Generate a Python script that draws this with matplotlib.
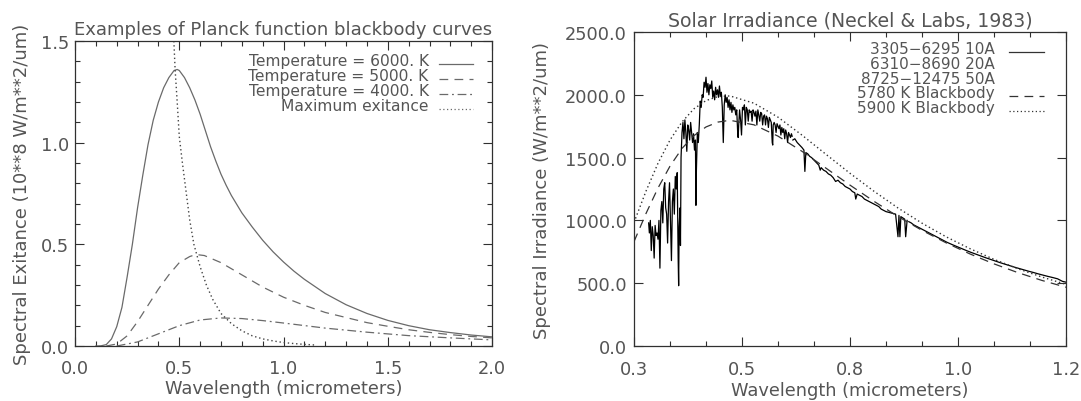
import numpy as np
import matplotlib
matplotlib.use("Agg")
import matplotlib.pyplot as plt
from matplotlib.ticker import FixedLocator, MultipleLocator, FormatStrFormatter

# ---- left panel: blackbody exitance curves (10**8 W/m**2/um) ----
wl_6000 = [0.10, 0.125, 0.15, 0.175, 0.20, 0.225, 0.25, 0.275, 0.30, 0.325, 0.35, 0.375,
           0.40, 0.425, 0.45, 0.475, 0.49, 0.50, 0.525, 0.55, 0.575, 0.60, 0.625, 0.65,
           0.675, 0.70, 0.725, 0.75, 0.80, 0.85, 0.90, 0.95, 1.00, 1.05, 1.10, 1.20, 1.30,
           1.40, 1.50, 1.60, 1.70, 1.80, 1.90, 2.00]
ex_6000 = [0.0, 0.001, 0.007, 0.035, 0.095, 0.19, 0.34, 0.50, 0.68, 0.84, 0.99, 1.11,
           1.20, 1.27, 1.32, 1.355, 1.36, 1.355, 1.32, 1.27, 1.21, 1.14, 1.06, 0.98,
           0.91, 0.845, 0.79, 0.74, 0.655, 0.585, 0.52, 0.463, 0.413, 0.368, 0.328, 0.258,
           0.203, 0.16, 0.126, 0.10, 0.08, 0.066, 0.054, 0.045]

wl_5000 = [0.15, 0.20, 0.25, 0.30, 0.35, 0.40, 0.45, 0.50, 0.55, 0.58, 0.62, 0.70, 0.80,
           0.90, 1.00, 1.10, 1.20, 1.30, 1.40, 1.50, 1.60, 1.70, 1.80, 1.90, 2.00]
ex_5000 = [0.0, 0.01, 0.05, 0.12, 0.20, 0.28, 0.35, 0.41, 0.44, 0.45, 0.445, 0.41, 0.35,
           0.29, 0.24, 0.20, 0.165, 0.14, 0.115, 0.097, 0.08, 0.067, 0.056, 0.047, 0.04]

wl_4000 = [0.20, 0.30, 0.40, 0.50, 0.60, 0.70, 0.80, 0.90, 1.00, 1.20, 1.40, 1.60, 1.80, 2.00]
ex_4000 = [0.0, 0.02, 0.06, 0.10, 0.128, 0.138, 0.135, 0.125, 0.113, 0.088, 0.068, 0.051,
           0.04, 0.03]

wl_max = [0.474, 0.48, 0.49, 0.50, 0.515, 0.53, 0.55, 0.57, 0.60, 0.63, 0.66, 0.70, 0.75,
          0.80, 0.85, 0.90, 0.95, 1.00, 1.05, 1.10, 1.15]
ex_max = [1.50, 1.36, 1.20, 1.03, 0.90, 0.78, 0.62, 0.50, 0.39, 0.30, 0.23, 0.16, 0.11,
          0.075, 0.05, 0.035, 0.025, 0.017, 0.012, 0.008, 0.005]

temp_labels = ["Temperature = 6000. K", "Temperature = 5000. K",
               "Temperature = 4000. K", "Maximum exitance"]

# ---- right panel: solar irradiance (W/m**2/um) ----
wl_seg1 = [0.3305, 0.332, 0.334, 0.336, 0.338, 0.340, 0.342, 0.344, 0.346, 0.348, 0.350,
           0.352, 0.354, 0.356, 0.358, 0.360, 0.362, 0.364, 0.366, 0.368, 0.370, 0.372,
           0.374, 0.376, 0.378, 0.380, 0.382, 0.384, 0.386, 0.388, 0.390, 0.392, 0.393,
           0.394, 0.396, 0.3968, 0.398, 0.400, 0.402, 0.404, 0.406, 0.408, 0.410, 0.412,
           0.414, 0.416, 0.418, 0.420, 0.422, 0.424, 0.426, 0.428, 0.429, 0.430, 0.432,
           0.434, 0.436, 0.438, 0.440, 0.442, 0.444, 0.446, 0.448, 0.450, 0.452, 0.454,
           0.456, 0.458, 0.460, 0.462, 0.464, 0.466, 0.468, 0.470, 0.472, 0.474, 0.476,
           0.478, 0.480, 0.482, 0.484, 0.486, 0.488, 0.490, 0.492, 0.494, 0.496, 0.498,
           0.500, 0.502, 0.504, 0.506, 0.508, 0.510, 0.512, 0.514, 0.516, 0.517, 0.518,
           0.520, 0.522, 0.524, 0.526, 0.528, 0.530, 0.532, 0.534, 0.536, 0.538, 0.540,
           0.542, 0.544, 0.546, 0.548, 0.550, 0.552, 0.554, 0.556, 0.558, 0.560, 0.562,
           0.564, 0.566, 0.568, 0.570, 0.572, 0.574, 0.576, 0.578, 0.580, 0.582, 0.584,
           0.586, 0.588, 0.589, 0.590, 0.592, 0.594, 0.596, 0.598, 0.600, 0.602, 0.604,
           0.606, 0.608, 0.610, 0.612, 0.614, 0.616, 0.618, 0.620, 0.622, 0.624, 0.626,
           0.628, 0.6295]
irr_seg1 = [980, 900, 1000, 760, 950, 880, 700, 960, 880, 900, 850,
            1000, 620, 1080, 1150, 980, 1250, 1300, 1100, 1050, 820, 1150,
            1300, 1000, 680, 1150, 1250, 1050, 1350, 1250, 1380, 700, 480,
            950, 1100, 800, 1500, 1700, 1780, 1650, 1800, 1700, 1550, 1760,
            1720, 1640, 1780, 1700, 1620, 1690, 1560, 1640, 1120, 1400, 1700,
            1620, 1760, 1950, 1900, 2000, 1980, 2100, 2060, 2140, 2020, 2090,
            2000, 2080, 2050, 2110, 1980, 2030, 1960, 2060, 2000, 2040, 1980,
            2070, 1990, 2020, 1900, 1620, 1920, 2000, 1940, 1980, 1900, 1960,
            1880, 1940, 1860, 1920, 1880, 1900, 1840, 1880, 1700, 1660, 1750,
            1880, 1800, 1680, 1900, 1880, 1920, 1760, 1900, 1880, 1790, 1880,
            1860, 1870, 1790, 1880, 1860, 1830, 1870, 1760, 1880, 1840, 1790,
            1860, 1850, 1760, 1830, 1840, 1760, 1830, 1810, 1740, 1820, 1800,
            1780, 1620, 1600, 1760, 1780, 1760, 1700, 1770, 1750, 1730, 1760,
            1680, 1740, 1700, 1730, 1650, 1720, 1690, 1620, 1700, 1680, 1660,
            1690, 1670]

wl_seg2 = [0.631, 0.635, 0.640, 0.645, 0.650, 0.654, 0.656, 0.658, 0.662, 0.666, 0.670,
           0.675, 0.680, 0.685, 0.688, 0.690, 0.695, 0.700, 0.705, 0.710, 0.715, 0.720,
           0.725, 0.730, 0.735, 0.740, 0.745, 0.750, 0.755, 0.760, 0.762, 0.765, 0.770,
           0.775, 0.780, 0.785, 0.790, 0.795, 0.800, 0.805, 0.810, 0.815, 0.820, 0.825,
           0.830, 0.835, 0.840, 0.845, 0.850, 0.852, 0.854, 0.856, 0.860, 0.864, 0.866,
           0.869]
irr_seg2 = [1640, 1650, 1620, 1600, 1580, 1560, 1390, 1540, 1530, 1510, 1500,
            1480, 1460, 1440, 1400, 1420, 1400, 1390, 1370, 1360, 1340, 1310,
            1320, 1300, 1290, 1270, 1260, 1250, 1230, 1220, 1170, 1210, 1200,
            1190, 1170, 1160, 1150, 1140, 1130, 1120, 1110, 1090, 1080, 1070,
            1065, 1060, 1055, 1050, 870, 1040, 870, 1030, 1020, 1010, 870,
            1000]

wl_seg3 = [0.8725, 0.8775, 0.8825, 0.8875, 0.8925, 0.9025, 0.9125, 0.9225, 0.9325, 0.9425,
           0.9525, 0.9625, 0.9725, 0.9825, 0.9925, 1.0025, 1.0125, 1.0225, 1.0325, 1.0425,
           1.0525, 1.0625, 1.0725, 1.0825, 1.0925, 1.1025, 1.1125, 1.1225, 1.1325, 1.1425,
           1.1525, 1.1625, 1.1725, 1.1825, 1.1925, 1.2025]
irr_seg3 = [990, 980, 965, 955, 945, 925, 905, 885, 865, 845,
            825, 808, 792, 776, 760, 745, 731, 717, 703, 690,
            677, 664, 652, 640, 628, 617, 606, 595, 585, 574,
            564, 554, 545, 535, 515, 506]

wl_bb = [0.300, 0.325, 0.350, 0.375, 0.400, 0.425, 0.450, 0.475, 0.500, 0.550, 0.600,
         0.650, 0.700, 0.750, 0.800, 0.850, 0.900, 0.950, 1.000, 1.050, 1.100, 1.150, 1.200]
irr_5780 = [831, 1055, 1258, 1432, 1573, 1675, 1744, 1783, 1797, 1761, 1671,
            1550, 1416, 1281, 1152, 1031, 921, 822, 733, 654, 584, 522, 468]
irr_5900 = [984, 1233, 1455, 1640, 1784, 1889, 1954, 1986, 1991, 1933, 1822,
            1679, 1526, 1375, 1232, 1099, 978, 870, 775, 690, 615, 549, 491]

solar_labels = ["3305\u22126295 10A", "6310\u22128690 20A", "8725\u221212475 50A",
                "5780 K Blackbody", "5900 K Blackbody"]

right_xticks = [0.3, 0.525, 0.75, 0.975, 1.2]
right_xticklabels = ["0.3", "0.5", "0.8", "1.0", "1.2"]

TEXT = "#555555"
AXC = "#303030"
CURVE = "#6a6a6a"

plt.rcParams["font.family"] = ["DejaVu Sans"]

fig = plt.figure(figsize=(10.81, 4.02), dpi=100)
ax1 = fig.add_axes([0.0694, 0.1368, 0.3858, 0.7587])
ax2 = fig.add_axes([0.5865, 0.1368, 0.3996, 0.7811])

DASH = (0, (7, 5))
DASHDOT = (0, (7, 3, 1.5, 3))
DOT = (0, (1, 2))


def idl_style(ax, xpad, ypad):
    for s in ax.spines.values():
        s.set_color(AXC)
        s.set_linewidth(0.9)
    ax.tick_params(which="both", direction="in", top=True, right=True,
                   colors=AXC, labelcolor=TEXT, labelsize=12.8, width=0.8)
    ax.tick_params(which="major", length=6.5)
    ax.tick_params(which="minor", length=3.6)
    ax.tick_params(axis="x", which="major", pad=xpad)
    ax.tick_params(axis="y", which="major", pad=ypad)


# left panel
ax1.plot(wl_6000, ex_6000, color=CURVE, lw=0.9)
ax1.plot(wl_5000, ex_5000, color=CURVE, lw=0.9, linestyle=DASH)
ax1.plot(wl_4000, ex_4000, color=CURVE, lw=0.9, linestyle=DASHDOT)
ax1.plot(wl_max, ex_max, color="#444444", lw=1.0, linestyle=DOT)
ax1.set_xlim(0, 2.0)
ax1.set_ylim(0, 1.5)
ax1.xaxis.set_major_locator(MultipleLocator(0.5))
ax1.xaxis.set_minor_locator(MultipleLocator(0.1))
ax1.yaxis.set_major_locator(MultipleLocator(0.5))
ax1.yaxis.set_minor_locator(MultipleLocator(0.1))
ax1.xaxis.set_major_formatter(FormatStrFormatter("%.1f"))
ax1.yaxis.set_major_formatter(FormatStrFormatter("%.1f"))
idl_style(ax1, 9, 4)
ax1.set_title("Examples of Planck function blackbody curves", fontsize=13,
              color=TEXT, pad=5)
ax1.set_xlabel("Wavelength (micrometers)", fontsize=12.8, color=TEXT, labelpad=2)
ax1.set_ylabel("Spectral Exitance (10**8 W/m**2/um)", fontsize=13, color=TEXT,
               labelpad=7)

left_styles = ["-", DASH, DASHDOT, DOT]
for i, (lab, ls) in enumerate(zip(temp_labels, left_styles)):
    yy = 0.935 - i * 0.049
    ax1.text(0.848, yy, lab, transform=ax1.transAxes, ha="right", va="center",
             fontsize=11.2, color=TEXT)
    ax1.plot([0.872, 0.955], [yy - 0.01, yy - 0.01], transform=ax1.transAxes,
             color=CURVE, lw=0.9, linestyle=ls, clip_on=False)

# right panel
ax2.plot(wl_seg1, irr_seg1, color="black", lw=0.9)
ax2.plot(wl_seg2, irr_seg2, color="black", lw=0.9)
ax2.plot(wl_seg3, irr_seg3, color="black", lw=0.9)
ax2.plot(wl_bb, irr_5780, color="#333333", lw=0.9, linestyle=DASH)
ax2.plot(wl_bb, irr_5900, color="#333333", lw=1.0, linestyle=DOT)
ax2.set_xlim(0.3, 1.2)
ax2.set_ylim(0, 2500)
ax2.xaxis.set_major_locator(FixedLocator(right_xticks))
ax2.set_xticklabels(right_xticklabels)
ax2.xaxis.set_minor_locator(MultipleLocator(0.075))
ax2.yaxis.set_major_locator(MultipleLocator(500))
ax2.yaxis.set_major_formatter(FormatStrFormatter("%.1f"))
idl_style(ax2, 10, 5)
ax2.set_title("Solar Irradiance (Neckel & Labs, 1983)", fontsize=13.6, color=TEXT,
              pad=5)
ax2.set_xlabel("Wavelength (micrometers)", fontsize=12.8, color=TEXT, labelpad=2)
ax2.set_ylabel("Spectral Irradiance (W/m**2/um)", fontsize=13, color=TEXT,
               labelpad=10)

right_styles = ["-", None, None, DASH, DOT]
for i, (lab, ls) in enumerate(zip(solar_labels, right_styles)):
    yy = 0.946 - i * 0.0465
    ax2.text(0.835, yy, lab, transform=ax2.transAxes, ha="right", va="center",
             fontsize=11, color=TEXT)
    if ls is not None:
        ax2.plot([0.868, 0.948], [yy - 0.01, yy - 0.01], transform=ax2.transAxes,
                 color="#333333", lw=0.9, linestyle=ls, clip_on=False)

fig.savefig("out.png", dpi=100)
